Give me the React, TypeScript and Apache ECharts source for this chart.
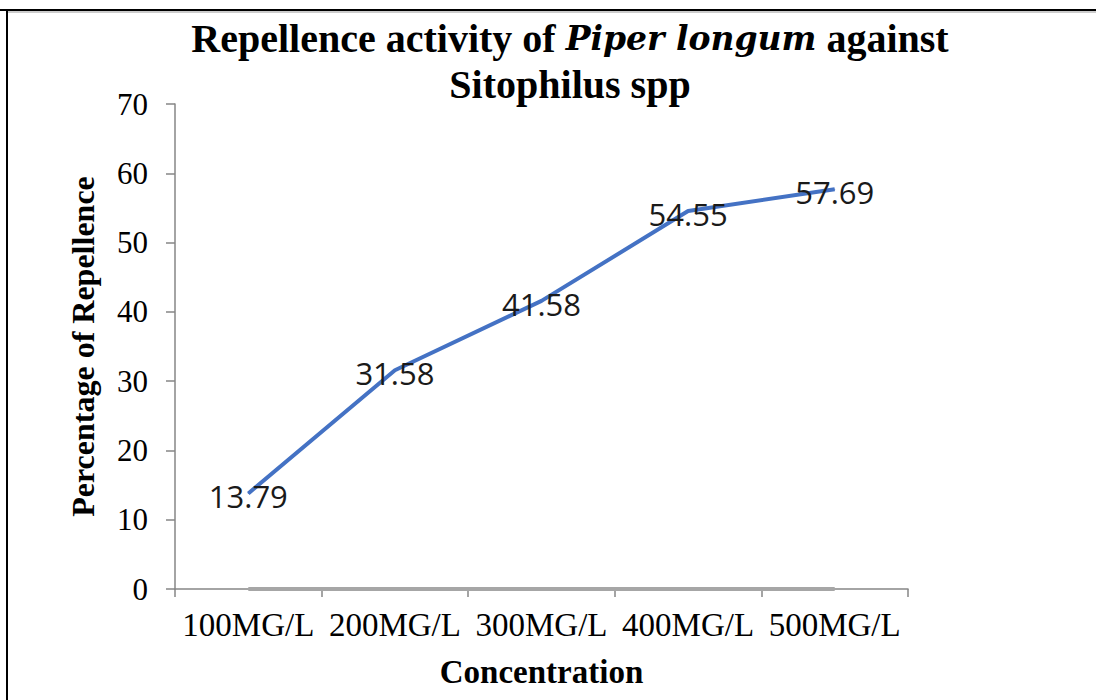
import React, { useEffect, useRef } from "react";
import * as echarts from "echarts";

const categories = ["100MG/L", "200MG/L", "300MG/L", "400MG/L", "500MG/L"];
const repellence = [13.79, 31.58, 41.58, 54.55, 57.69];
const baseline = [0, 0, 0, 0, 0];
const yTicks = { min: 0, max: 70, interval: 10 };

export default function App() {
  const ref = useRef<HTMLDivElement>(null);
  useEffect(() => {
    if (!ref.current) return;
    const chart = echarts.init(ref.current, null, { renderer: "svg" });
    const serif = "'Liberation Serif', 'Times New Roman', serif";
    chart.setOption({
      animation: false,
      backgroundColor: "#fff",
      title: {
        left: 565,
        top: 10,
        textAlign: "center",
        text: "{b|Repellence activity of }{bi|Piper longum}{b| against}\n{b|Sitophilus spp}",
        textStyle: {
          rich: {
            b: { fontFamily: serif, fontWeight: "bold", fontSize: 40, color: "#000", lineHeight: 46 },
            bi: { fontFamily: "'DejaVu Serif', serif", fontWeight: "bold", fontStyle: "italic", fontSize: 33, color: "#000", lineHeight: 46 },
          },
        },
      },
      grid: { left: 175, right: 188, top: 104, bottom: 111 },
      xAxis: {
        type: "category",
        data: categories,
        boundaryGap: true,
        name: "Concentration",
        nameLocation: "middle",
        nameGap: 66,
        nameTextStyle: { fontFamily: serif, fontWeight: "bold", fontSize: 33, color: "#000" },
        axisLine: { lineStyle: { color: "#868686", width: 1.5 } },
        axisTick: { show: true, length: 8, lineStyle: { color: "#868686", width: 1.5 } },
        axisLabel: { interval: 0, fontFamily: serif, fontSize: 33, color: "#000", margin: 19 },
        splitLine: { show: false },
      },
      yAxis: {
        type: "value",
        min: yTicks.min,
        max: yTicks.max,
        interval: yTicks.interval,
        name: "Percentage of Repellence",
        nameLocation: "middle",
        nameGap: 76,
        nameTextStyle: { fontFamily: serif, fontWeight: "bold", fontSize: 32, color: "#000" },
        axisLine: { show: true, lineStyle: { color: "#868686", width: 1.5 } },
        axisTick: { show: true, length: 9, lineStyle: { color: "#868686", width: 1.5 } },
        axisLabel: { fontFamily: serif, fontSize: 31, color: "#000", margin: 27 },
        splitLine: { show: false },
      },
      series: [
        {
          type: "line",
          data: baseline,
          showSymbol: false,
          lineStyle: { color: "#a6a6a6", width: 4 },
          itemStyle: { color: "#a6a6a6" },
          z: 1,
        },
        {
          type: "line",
          data: repellence,
          symbol: "circle",
          symbolSize: 1,
          lineStyle: { color: "#4472c4", width: 4 },
          itemStyle: { color: "#4472c4" },
          label: {
            show: true,
            position: "inside",
            offset: [0, 3],
            fontFamily: "'Open Sans', 'Noto Sans', sans-serif",
            fontSize: 31,
            color: "#1a1a1a",
          },
          z: 3,
        },
      ],
      graphic: [
        { type: "line", shape: { x1: 0, y1: 10, x2: 1096, y2: 10 }, style: { stroke: "#000", lineWidth: 2 } },
        { type: "line", shape: { x1: 8, y1: 12, x2: 1096, y2: 12 }, style: { stroke: "#bbb", lineWidth: 1.5 } },
        { type: "line", shape: { x1: 7, y1: 9, x2: 7, y2: 700 }, style: { stroke: "#000", lineWidth: 2 } },
      ],
    });
    return () => chart.dispose();
  }, []);
  return (
    <div
      ref={ref}
      style={{ position: "fixed", left: 0, top: 0, width: 1096, height: 700, background: "#fff" }}
    />
  );
}
